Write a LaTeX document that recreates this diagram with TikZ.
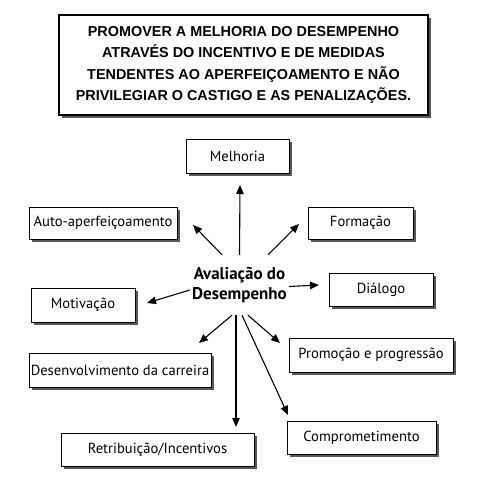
\documentclass[tikz,border=0pt]{standalone}
\usepackage{fontspec}
\setmainfont{PT Sans}
\newfontfamily\headfont{Liberation Sans}
\usetikzlibrary{arrows.meta,shadows}

\begin{document}
\begin{tikzpicture}[x=1pt,y=-1pt,
  item/.style={rectangle,draw,fill=white,line width=0.9pt,inner sep=0pt,
    font=\fontsize{14.6}{16}\selectfont,
    drop shadow={shadow xshift=3pt,shadow yshift=-3pt,fill=black!65,opacity=1}},
  arr/.style={-{Triangle[length=9pt,width=7.5pt]},line width=1.1pt}
]
\useasboundingbox (0,0) rectangle (480,489);

% Title
\node[item,line width=1.6pt,minimum width=369pt,minimum height=100pt,align=center,
  font=\headfont\bfseries\fontsize{14.4}{21.5}\selectfont] (goal) at (243.5,65)
  {PROMOVER A MELHORIA DO DESEMPENHO\\ATRAVÉS DO INCENTIVO E DE MEDIDAS\\
   TENDENTES AO APERFEIÇOAMENTO E NÃO\\PRIVILEGIAR O CASTIGO E AS PENALIZAÇÕES.};

% Centre
\node[align=center,minimum width=99pt,minimum height=57pt,inner sep=0pt,
  font=\bfseries\fontsize{17}{20}\selectfont] (aval) at (239.5,285)
  {Avaliação do\\Desempenho};

% Boxes
\node[item,minimum width=103pt,minimum height=34pt] (melh) at (237.5,156) {Melhoria};
\node[item,minimum width=148pt,minimum height=32pt] (auto) at (103,223) {Auto-aperfeiçoamento};
\node[item,minimum width=105pt,minimum height=32pt] (form) at (360.5,223) {Formação};
\node[item,minimum width=104pt,minimum height=33pt] (dial) at (381,289.5) {Diálogo};
\node[item,minimum width=104pt,minimum height=34pt] (moti) at (83,305) {Motivação};
\node[item,minimum width=182pt,minimum height=34pt] (dese) at (120,370) {Desenvolvimento da carreira};
\node[item,minimum width=164pt,minimum height=34pt] (prom) at (371,355) {Promoção e progressão};
\node[item,minimum width=193pt,minimum height=33pt] (retr) at (157.5,449.5) {Retribuição/Incentivos};
\node[item,minimum width=149pt,minimum height=33pt] (comp) at (361.5,437.5) {Comprometimento};

% Arrow tips
\coordinate (melhT) at (240,185);
\coordinate (autoT) at (193,225);
\coordinate (formT) at (299,224);
\coordinate (dialT) at (319,285);
\coordinate (motiT) at (147,303);
\coordinate (deseT) at (199,343);
\coordinate (retrT) at (236,427);
\coordinate (promT) at (280,343);
\coordinate (compT) at (288,415);

\draw[arr] ([yshift=1.5pt]aval.north) -- (melhT);
\draw[arr] ([xshift=-17.5pt,yshift=1.5pt]aval.north) -- (autoT);
\draw[arr] ([xshift=28.5pt,yshift=1.5pt]aval.north) -- (formT);
\draw[arr] ([yshift=-1.5pt]aval.east) -- (dialT);
\draw[arr] ([yshift=-5pt]aval.west) -- (motiT);
\draw[arr] ([xshift=-7.5pt,yshift=-1.5pt]aval.south) -- (deseT);
\draw[arr] ([xshift=-3.5pt,yshift=-1.5pt]aval.south) -- (retrT);
\draw[arr] ([xshift=8.5pt,yshift=-1.5pt]aval.south) -- (promT);
\draw[arr] ([xshift=2.5pt,yshift=-1.5pt]aval.south) -- (compT);
\end{tikzpicture}
\end{document}
